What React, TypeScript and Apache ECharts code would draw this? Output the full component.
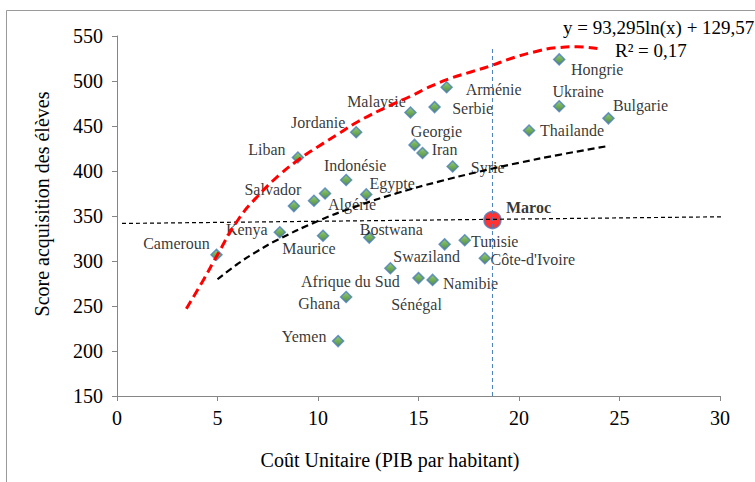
import { useEffect, useRef } from "react";
import * as echarts from "echarts";

// Pays, coût unitaire (PIB par habitant) et score d'acquisition
const countries = [
  "Cameroun", "Kenya", "Salvador", "Liban", "", "Algérie", "Maurice", "Yemen",
  "Indonésie", "Ghana", "Jordanie", "Egypte", "Bostwana", "Afrique du Sud",
  "Malaysie", "Georgie", "Sénégal", "Iran", "Namibie", "Serbie", "Swaziland",
  "Arménie", "Syrie", "Tunisie", "Côte-d'Ivoire", "Thailande", "Hongrie",
  "Ukraine", "Bulgarie",
];
const cost = [
  4.95, 8.1, 8.8, 9.0, 9.8, 10.35, 10.25, 11.0, 11.4, 11.4, 11.9, 12.4, 12.55,
  13.6, 14.6, 14.8, 15.0, 15.2, 15.7, 15.8, 16.3, 16.4, 16.7, 17.3, 18.3, 20.5,
  22.0, 22.0, 24.45,
];
const score = [
  307, 332, 361, 415, 367, 375, 328, 211, 390, 260, 443, 374, 326, 292, 465, 429,
  281, 420, 279, 471, 318.5, 493, 405, 323, 303, 445, 524, 472, 458.5,
];

// Maroc
const marocName = "Maroc";
const marocCost = 18.68;
const marocScore = 345.5;

// Tendance logarithmique y = 93,295ln(x) + 129,57
const logTrendX = [5, 6, 7, 8, 10, 12, 14, 16, 18, 20, 22, 24.5];
const logTrendY = [279.7, 296.7, 311.1, 323.6, 344.4, 361.4, 375.8, 388.2, 399.2, 409.1, 418.0, 428.0];

// Frontière (courbe rouge)
const frontierX = [3.45, 4.3, 5.0, 6.0, 7.0, 8.1, 9.0, 10.0, 11.0, 12.0, 13.5, 14.6, 15.6, 16.6, 17.6, 18.6, 19.6, 20.7, 21.9, 22.9, 23.9];
const frontierY = [247, 279, 307, 345, 372, 396, 412, 427, 441, 455, 472, 483, 494, 503, 510, 517, 525, 532, 537, 538, 536];

// Tendance linéaire (ligne horizontale pointillée)
const linearX = [0.25, 31.1];
const linearY = [341.7, 349.4];

// Repère vertical du Maroc
const marocLineY = [150, 538];

const equationText = "y = 93,295ln(x) + 129,57";
const r2Text = "R² = 0,17";
const xTitle = "Coût Unitaire (PIB par habitant)";
const yTitle = "Score acquisition des élèves";

// Décalage des étiquettes par rapport au point (px)
const labelOffsets: Record<string, [number, number]> = {
  Cameroun: [-40, -11],
  Kenya: [-33, -3],
  Salvador: [-21, -17],
  Liban: [-31, -8],
  "Algérie": [27, 11],
  Maurice: [-14, 13],
  Yemen: [-34, -5],
  "Indonésie": [9, -15],
  Ghana: [-27, 6],
  Jordanie: [-38, -10],
  Egypte: [26, -11],
  Bostwana: [22, -8],
  "Afrique du Sud": [-40, 13],
  Malaysie: [-34, -11],
  Georgie: [22, -13],
  "Sénégal": [-2, 26],
  Iran: [22, -4],
  Namibie: [38, 4],
  Serbie: [38, 1],
  Swaziland: [-18, 12],
  "Arménie": [47, 2],
  Syrie: [35, 1],
  Tunisie: [30, 1],
  "Côte-d'Ivoire": [48, 1],
  Thailande: [43, 0],
  Hongrie: [38, 10],
  Ukraine: [19, -15],
  Bulgarie: [32, -13],
  Maroc: [36, -13],
};

const FONT = '"Liberation Serif", "Times New Roman", serif';
const AXIS_COLOR = "#868686";

export default function App() {
  const ref = useRef<HTMLDivElement>(null);

  useEffect(() => {
    document.body.style.margin = "0";
    if (!ref.current) return;
    const chart = echarts.init(ref.current, null, { renderer: "svg" });

    const points = countries.map((name, i) => ({
      name,
      value: [cost[i], score[i]],
    }));

    const zip = (xs: number[], ys: number[]) => xs.map((x, i) => [x, ys[i]]);

    const markerFill = new echarts.graphic.LinearGradient(0, 0, 0, 1, [
      { offset: 0, color: "#7fbf5a" },
      { offset: 0.5, color: "#4e9a2e" },
      { offset: 1, color: "#2b6a1c" },
    ]);

    chart.setOption({
      animation: false,
      backgroundColor: "#ffffff",
      textStyle: { fontFamily: FONT },
      grid: { left: 117, right: 35, top: 36, bottom: 86 },
      xAxis: {
        type: "value",
        min: 0,
        max: 30,
        interval: 5,
        splitLine: { show: false },
        axisLine: { lineStyle: { color: AXIS_COLOR, width: 1 } },
        axisTick: { show: true, length: 5, lineStyle: { color: AXIS_COLOR } },
        axisLabel: { color: "#000", fontFamily: FONT, fontSize: 20, margin: 12 },
      },
      yAxis: {
        type: "value",
        min: 150,
        max: 550,
        interval: 50,
        splitLine: { show: false },
        axisLine: { show: true, lineStyle: { color: AXIS_COLOR, width: 1 } },
        axisTick: { show: true, length: 5, lineStyle: { color: AXIS_COLOR } },
        axisLabel: { color: "#000", fontFamily: FONT, fontSize: 20, margin: 14 },
      },
      series: [
        {
          type: "scatter",
          z: 2,
          symbol: "diamond",
          symbolSize: 11,
          itemStyle: { color: markerFill, borderColor: "#4a7ebb", borderWidth: 1.5 },
          label: {
            show: true,
            position: "inside",
            align: "center",
            verticalAlign: "middle",
            formatter: "{b}",
            color: "#000",
            fontFamily: FONT,
            fontSize: 16,
          },
          labelLayout: (params: any) => {
            const off = labelOffsets[countries[params.dataIndex]] || [0, 0];
            return {
              x: params.rect.x + params.rect.width / 2 + off[0],
              y: params.rect.y + params.rect.height / 2 + off[1],
              align: "center",
              verticalAlign: "middle",
              hideOverlap: false,
            };
          },
          data: points,
        },
        {
          type: "scatter",
          z: 2,
          symbol: "circle",
          symbolSize: 17,
          itemStyle: { color: "#ff0000", borderColor: "#4a7ebb", borderWidth: 1.5 },
          label: {
            show: true,
            position: "inside",
            align: "center",
            verticalAlign: "middle",
            offset: labelOffsets[marocName],
            color: "#000",
            fontFamily: FONT,
            fontSize: 16,
            fontWeight: "bold",
            formatter: "{b}",
          },
          data: [{ name: marocName, value: [marocCost, marocScore] }],
        },
        {
          type: "line",
          z: 5,
          clip: false,
          showSymbol: false,
          symbol: "none",
          silent: true,
          lineStyle: { color: "#000", width: 1.2, type: [4, 3] },
          data: zip(linearX, linearY),
        },
        {
          type: "line",
          z: 5,
          showSymbol: false,
          symbol: "none",
          silent: true,
          lineStyle: { color: "#4a7ebb", width: 1, type: [4, 3] },
          data: marocLineY.map((y) => [marocCost, y]),
        },
        {
          type: "line",
          z: 5,
          smooth: true,
          showSymbol: false,
          symbol: "none",
          silent: true,
          lineStyle: { color: "#000", width: 2.2, type: [7, 4] },
          data: zip(logTrendX, logTrendY),
        },
        {
          type: "line",
          z: 5,
          smooth: true,
          showSymbol: false,
          symbol: "none",
          silent: true,
          lineStyle: { color: "#ff0000", width: 3, type: [9, 5] },
          data: zip(frontierX, frontierY),
        },
      ],
      graphic: [
        {
          type: "rect",
          silent: true,
          shape: { x: 6.5, y: 10.5, width: 800, height: 600 },
          style: { fill: "none", stroke: "#9a9a9a", lineWidth: 1 },
          z: -1,
        },
        {
          type: "text",
          x: 563,
          y: 27,
          style: {
            text: equationText,
            font: `19px ${FONT}`,
            fill: "#000",
            textAlign: "left",
            textVerticalAlign: "middle",
          },
        },
        {
          type: "text",
          x: 615,
          y: 50,
          style: {
            text: r2Text,
            font: `19px ${FONT}`,
            fill: "#000",
            textAlign: "left",
            textVerticalAlign: "middle",
          },
        },
        {
          type: "text",
          x: 390,
          y: 460,
          style: {
            text: xTitle,
            font: `20px ${FONT}`,
            fill: "#000",
            textAlign: "center",
            textVerticalAlign: "middle",
          },
        },
        {
          type: "text",
          x: 42,
          y: 204,
          rotation: Math.PI / 2,
          style: {
            text: yTitle,
            font: `20px ${FONT}`,
            fill: "#000",
            textAlign: "center",
            textVerticalAlign: "middle",
          },
        },
      ],
    });

    return () => chart.dispose();
  }, []);

  return <div ref={ref} style={{ width: 755, height: 482 }} />;
}
